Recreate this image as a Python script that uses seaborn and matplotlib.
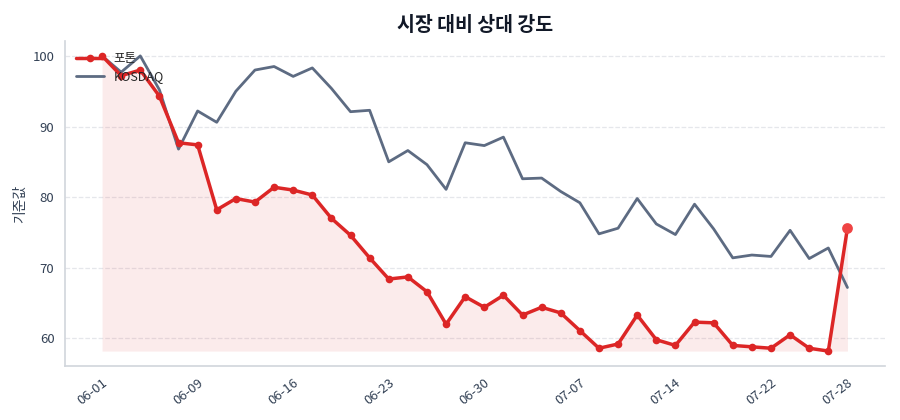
import numpy as np
import pandas as pd
import matplotlib
matplotlib.use("Agg")
import matplotlib.pyplot as plt
import seaborn as sns

dates = ["06-01", "06-02", "06-04", "06-05", "06-08", "06-09", "06-10", "06-11", "06-12", "06-15",
         "06-16", "06-17", "06-18", "06-19", "06-22", "06-23", "06-24", "06-25", "06-26", "06-29",
         "06-30", "07-01", "07-02", "07-03", "07-06", "07-07", "07-08", "07-09", "07-10", "07-13",
         "07-14", "07-15", "07-16", "07-20", "07-21", "07-22", "07-23", "07-24", "07-27", "07-28"]
photon = [100.0, 97.2, 98.0, 94.3, 87.7, 87.4, 78.2, 79.8, 79.3, 81.4,
          81.0, 80.3, 77.0, 74.6, 71.4, 68.4, 68.7, 66.6, 62.0, 65.9,
          64.4, 66.1, 63.3, 64.4, 63.6, 61.1, 58.6, 59.2, 63.3, 59.8,
          59.0, 62.3, 62.2, 59.0, 58.8, 58.6, 60.5, 58.6, 58.2, 75.6]
kosdaq = [100.0, 97.7, 100.0, 95.2, 86.8, 92.2, 90.6, 95.0, 98.0, 98.5,
          97.1, 98.3, 95.4, 92.1, 92.3, 85.0, 86.6, 84.6, 81.1, 87.7,
          87.3, 88.5, 82.6, 82.7, 80.8, 79.2, 74.8, 75.6, 79.8, 76.2,
          74.7, 79.0, 75.5, 71.4, 71.8, 71.6, 75.3, 71.3, 72.8, 67.2]
tick_idx = [0, 5, 10, 15, 20, 25, 30, 35, 39]

df = pd.DataFrame({"idx": range(len(dates)), "date": dates, "포톤": photon, "KOSDAQ": kosdaq})

sns.set_style("white")
plt.rcParams["font.family"] = ["Noto Sans CJK KR", "DejaVu Sans"]

red = "#dc2626"
slate = "#5d6b82"

fig, ax = plt.subplots(figsize=(9, 4.2), dpi=100)
fig.subplots_adjust(left=0.072, right=0.983, top=0.902, bottom=0.129)

ax.fill_between(df["idx"], df["포톤"], df["포톤"].min(), color=red, alpha=0.09, linewidth=0)
sns.lineplot(data=df, x="idx", y="포톤", ax=ax, color=red, linewidth=2.5,
             marker="o", markersize=5.5, markeredgewidth=0, label="포톤", zorder=3)
sns.lineplot(data=df, x="idx", y="KOSDAQ", ax=ax, color=slate, linewidth=2, label="KOSDAQ", zorder=2)
last = df.iloc[[-1]]
ax.scatter(last["idx"], last["포톤"], s=60, color="#ef4444", zorder=4, linewidths=0)

ax.set_xticks(tick_idx)
ax.set_xticklabels([dates[i] for i in tick_idx], rotation=38, ha="right", rotation_mode="anchor")
ax.set_yticks([60, 70, 80, 90, 100])
ax.tick_params(axis="both", colors="#475569", labelsize=9.5, length=4, width=1)
ax.tick_params(axis="x", labelcolor="#334155")
ax.tick_params(axis="y", labelcolor="#334155")
ax.grid(axis="y", linestyle="--", color="#e5e7eb", linewidth=0.9)
ax.set_axisbelow(True)
for s in ["top", "right"]:
    ax.spines[s].set_visible(False)
for s in ["left", "bottom"]:
    ax.spines[s].set_color("#d1d5db")
    ax.spines[s].set_linewidth(1.2)

ax.set_xlabel("")
ax.set_ylabel("기준값", fontsize=10, color="#334155")
ax.set_title("시장 대비 상대 강도", fontsize=14, fontweight="bold", color="#111827", pad=7)
leg = ax.legend(loc="upper left", frameon=False, fontsize=9, borderaxespad=0.5,
                handlelength=2.2, labelspacing=0.4)

fig.savefig("out.png", dpi=100)
